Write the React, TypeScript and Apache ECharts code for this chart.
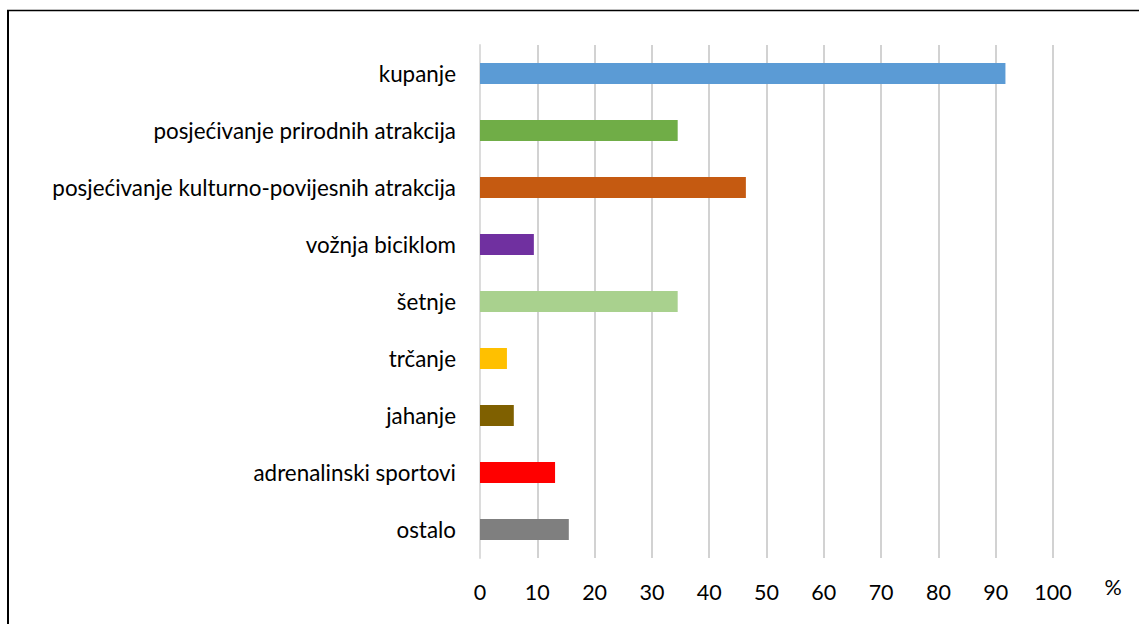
import React, { useEffect, useRef } from "react";
import * as echarts from "echarts";

const categories = [
  "kupanje",
  "posjećivanje prirodnih atrakcija",
  "posjećivanje kulturno-povijesnih atrakcija",
  "vožnja biciklom",
  "šetnje",
  "trčanje",
  "jahanje",
  "adrenalinski sportovi",
  "ostalo",
];
const values = [91.7, 34.5, 46.4, 9.4, 34.5, 4.7, 5.9, 13.1, 15.5];
const colors = [
  "#5b9bd5",
  "#70ad47",
  "#c55a11",
  "#7030a0",
  "#a9d18e",
  "#ffc000",
  "#7f6000",
  "#ff0000",
  "#7f7f7f",
];
const unitLabel = "%";

export default function App() {
  const ref = useRef<HTMLDivElement>(null);
  useEffect(() => {
    if (!ref.current) return;
    const chart = echarts.init(ref.current, null, { renderer: "svg" });
    const font = "Lato, 'Noto Sans', sans-serif";
    chart.setOption({
      animation: false,
      backgroundColor: "#fff",
      grid: { left: 480, right: 86, top: 45, bottom: 66, containLabel: false },
      xAxis: {
        type: "value",
        min: 0,
        max: 100,
        interval: 10,
        axisLine: { show: false },
        axisTick: { show: false },
        splitLine: { show: true, lineStyle: { color: "#c3c3c3", width: 1.5 } },
        axisLabel: { color: "#000", fontSize: 21.5, fontFamily: font, margin: 23 },
      },
      yAxis: {
        type: "category",
        data: categories,
        inverse: true,
        axisLine: { show: true, lineStyle: { color: "#dcdcdc", width: 2 } },
        axisTick: { show: false },
        axisLabel: { color: "#000", fontSize: 22.4, fontFamily: font, margin: 24 },
      },
      series: [
        {
          type: "bar",
          barWidth: 21,
          data: values.map((v, i) => ({ value: v, itemStyle: { color: colors[i] } })),
        },
      ],
      graphic: [
        {
          type: "text",
          x: 1113,
          y: 587,
          style: {
            text: unitLabel,
            fill: "#000",
            fontSize: 21.5,
            fontFamily: font,
            align: "center",
            verticalAlign: "middle",
          },
        },
        {
          type: "line",
          shape: { x1: 8, y1: 10, x2: 8, y2: 624 },
          style: { stroke: "#000", lineWidth: 2 },
        },
        {
          type: "line",
          shape: { x1: 7, y1: 10.5, x2: 1139, y2: 10.5 },
          style: { stroke: "#000", lineWidth: 1.5 },
        },
      ],
    });
    return () => chart.dispose();
  }, []);
  return (
    <div
      ref={ref}
      style={{ position: "absolute", left: 0, top: 0, width: 1139, height: 624 }}
    />
  );
}
